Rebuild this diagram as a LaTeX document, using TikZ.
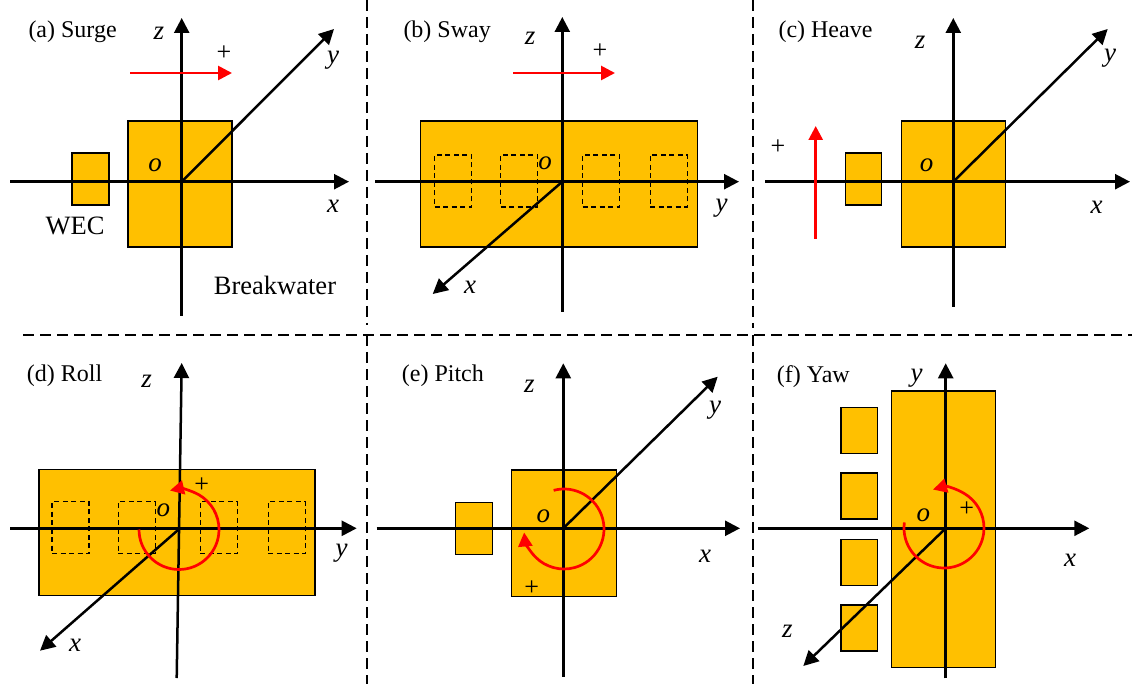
\documentclass[tikz,border=0pt]{standalone}
\usepackage{fontspec}
\setmainfont{Liberation Serif}
\usetikzlibrary{arrows.meta}
\definecolor{gold}{HTML}{FFC000}
\begin{document}
\begin{tikzpicture}[x=1pt,y=-1pt,
  axis/.style={line width=2.5pt,-{Triangle[length=15pt,width=15pt]}},
  body/.style={draw=black,fill=gold,line width=1.5pt,inner sep=0pt,outer sep=0pt},
  slot/.style={draw=black,dash pattern=on 5pt off 3.5pt,line width=1.4pt,inner sep=0pt,outer sep=0pt,minimum width=37pt,minimum height=52pt},
  motion/.style={red,line width=2.7pt,-{Triangle[length=14pt,width=14pt]}},
  sep/.style={line width=1.7pt,dash pattern=on 11pt off 6pt},
  ttl/.style={font=\fontsize{24}{28}\selectfont,anchor=west,inner sep=0pt},
  lbl/.style={font=\fontsize{27}{30}\selectfont\itshape,inner sep=0pt},
  plus/.style={font=\fontsize{26}{28}\selectfont,inner sep=0pt},
  word/.style={font=\fontsize{26.5}{30}\selectfont,inner sep=0pt}
]
\useasboundingbox (0,0) rectangle (1132,684);

% ---------- separators ----------
\coordinate (s1a) at (367,0);   \coordinate (s1b) at (367,325);
\coordinate (s2a) at (753,0);   \coordinate (s2b) at (753,328);
\coordinate (s3a) at (23,335);  \coordinate (s3b) at (1132,335);
\coordinate (s4a) at (367,335); \coordinate (s4b) at (367,684);
\coordinate (s5a) at (753,335); \coordinate (s5b) at (753,684);
\draw[sep] (s1a) -- (s1b);
\draw[sep] (s2a) -- (s2b);
\draw[sep] (s3a) -- (s3b);
\draw[sep] (s4a) -- (s4b);
\draw[sep] (s5a) -- (s5b);

% ---------- (a) Surge ----------
\node[body,minimum width=104pt,minimum height=126pt] (aBW) at (180,184) {};
\node[body,minimum width=37pt,minimum height=52pt] (aWEC) at (90.5,179) {};
\coordinate (aO) at (181.7,181.7);
\coordinate (aZs) at (181.7,316); \coordinate (aZe) at (181.7,18);
\coordinate (aXs) at (10,181.7);  \coordinate (aXe) at (349,181.7);
\coordinate (aYe) at (334,29);
\draw[axis] (aZs) -- (aZe);
\draw[axis] (aXs) -- (aXe);
\draw[axis] (aO) -- (aYe);
\coordinate (aMs) at (130,73); \coordinate (aMe) at (232,73);
\draw[motion] (aMs) -- (aMe);
\node[ttl] (aT) at (28.3,32) {(a) Surge};
\node[plus] (aP) at (224,53) {+};
\node[lbl] (az) at (159,33) {z};
\node[lbl] (ay) at (333,60) {y};
\node[lbl] (ax) at (333,206) {x};
\node[lbl] (ao) at (155,165) {o};
\node[word] (aW) at (75,226) {WEC};
\node[word] (aB) at (275,285) {Breakwater};

% ---------- (b) Sway ----------
\node[body,minimum width=276.6pt,minimum height=126pt] (bBW) at (559,184) {};
\node[slot] (bS1) at (453,181) {};
\node[slot] (bS2) at (519,181) {};
\node[slot] (bS3) at (601,181) {};
\node[slot] (bS4) at (668.7,181) {};
\coordinate (bO) at (562.3,181.7);
\coordinate (bZs) at (562.3,312); \coordinate (bZe) at (562.3,17);
\coordinate (bYs) at (375,181.7); \coordinate (bYe) at (739,181.7);
\coordinate (bXe) at (432.7,294);
\draw[axis] (bZs) -- (bZe);
\draw[axis] (bYs) -- (bYe);
\draw[axis] (bO) -- (bXe);
\coordinate (bMs) at (513.3,73); \coordinate (bMe) at (615,73);
\draw[motion] (bMs) -- (bMe);
\node[ttl] (bT) at (403.3,32) {(b) Sway};
\node[plus] (bP) at (600,51) {+};
\node[lbl] (bz) at (530,38) {z};
\node[lbl] (bo) at (545,163) {o};
\node[lbl] (by) at (721.7,208) {y};
\node[lbl] (bx) at (470,287) {x};

% ---------- (c) Heave ----------
\node[body,minimum width=104pt,minimum height=126pt] (cBW) at (953.7,184) {};
\node[body,minimum width=36pt,minimum height=52pt] (cWEC) at (863.7,179) {};
\coordinate (cO) at (953.3,181.7);
\coordinate (cZs) at (953.3,307); \coordinate (cZe) at (953.3,18);
\coordinate (cXs) at (765,181.7); \coordinate (cXe) at (1130,181.7);
\coordinate (cYe) at (1107.7,29);
\draw[axis] (cZs) -- (cZe);
\draw[axis] (cXs) -- (cXe);
\draw[axis] (cO) -- (cYe);
\coordinate (cMs) at (815.7,239); \coordinate (cMe) at (815.7,126);
\draw[motion] (cMs) -- (cMe);
\node[ttl] (cT) at (778.3,32) {(c) Heave};
\node[plus] (cP) at (778,147) {+};
\node[lbl] (cz) at (920,42) {z};
\node[lbl] (cy) at (1110,58) {y};
\node[lbl] (cx) at (1096.7,207) {x};
\node[lbl] (co) at (926.7,165) {o};

% ---------- (d) Roll ----------
\node[body,minimum width=276pt,minimum height=126.4pt] (dBW) at (177,532.5) {};
\node[slot] (dS1) at (70.5,527.5) {};
\node[slot] (dS2) at (136.7,527.5) {};
\node[slot] (dS3) at (218.7,527.5) {};
\node[slot] (dS4) at (286.7,527.5) {};
\coordinate (dO) at (180,528.3);
\coordinate (dZs) at (176.7,678); \coordinate (dZe) at (181.7,363);
\coordinate (dYs) at (10,528.3);  \coordinate (dYe) at (356.7,528.3);
\coordinate (dXe) at (40,650.7);
\draw[axis] (dZs) -- (dZe);
\draw[axis] (dYs) -- (dYe);
\draw[axis] (dO) -- (dXe);
\coordinate (dC) at (179,529.5);
\draw[motion] (dC) ++(-180:40) arc (-180:-463:40);
\node[ttl] (dT) at (26.7,375.7) {(d) Roll};
\node[plus] (dP) at (201.7,485) {+};
\node[lbl] (dz) at (146.7,381.7) {z};
\node[lbl] (do) at (163.3,510) {o};
\node[lbl] (dy) at (341.7,553.3) {y};
\node[lbl] (dx) at (75,645) {x};

% ---------- (e) Pitch ----------
\node[body,minimum width=105pt,minimum height=126.7pt] (eBW) at (564.2,533.3) {};
\node[body,minimum width=36.6pt,minimum height=52pt] (eWEC) at (474,528.3) {};
\coordinate (eO) at (563.3,528.3);
\coordinate (eZs) at (563.3,676.7); \coordinate (eZe) at (563.3,363.3);
\coordinate (eXs) at (376.7,528.3); \coordinate (eXe) at (740,528.3);
\coordinate (eYe) at (717.7,376.7);
\draw[axis] (eZs) -- (eZe);
\draw[axis] (eXs) -- (eXe);
\draw[axis] (eO) -- (eYe);
\coordinate (eC) at (564,529);
\draw[motion] (eC) ++(-105:40) arc (-105:175:40);
\node[ttl] (eT) at (401.7,375.7) {(e) Pitch};
\node[plus] (eP) at (531.7,588.3) {+};
\node[lbl] (eo) at (543.3,516.7) {o};
\node[lbl] (ez) at (529.3,386.7) {z};
\node[lbl] (ey) at (715,410) {y};
\node[lbl] (ex) at (705,556.7) {x};

% ---------- (f) Yaw ----------
\node[body,minimum width=104pt,minimum height=276.3pt] (fBW) at (943.7,529.2) {};
\node[body,minimum width=36.7pt,minimum height=46pt] (fW1) at (859.3,430.3) {};
\node[body,minimum width=36.7pt,minimum height=46pt] (fW2) at (859.3,495.8) {};
\node[body,minimum width=36.7pt,minimum height=46pt] (fW3) at (859.3,562.5) {};
\node[body,minimum width=36.7pt,minimum height=46pt] (fW4) at (859.3,628.2) {};
\coordinate (fO) at (945.7,528.3);
\coordinate (fYs) at (945.7,678.3); \coordinate (fYe) at (945.7,363.3);
\coordinate (fXs) at (758.3,528.3); \coordinate (fXe) at (1089.3,528.3);
\coordinate (fZe) at (803.3,666);
\draw[axis] (fYs) -- (fYe);
\draw[axis] (fXs) -- (fXe);
\draw[axis] (fO) -- (fZe);
\coordinate (fC) at (944,528);
\draw[motion] (fC) ++(-172:40) arc (-172:-466:40);
\node[ttl] (fT) at (776.7,376.7) {(f) Yaw};
\node[plus] (fP) at (966.7,509.3) {+};
\node[lbl] (fo) at (923.3,515) {o};
\node[lbl] (fy) at (916.7,378.3) {y};
\node[lbl] (fx) at (1070,560) {x};
\node[lbl] (fz) at (787.3,631.7) {z};
\end{tikzpicture}
\end{document}
